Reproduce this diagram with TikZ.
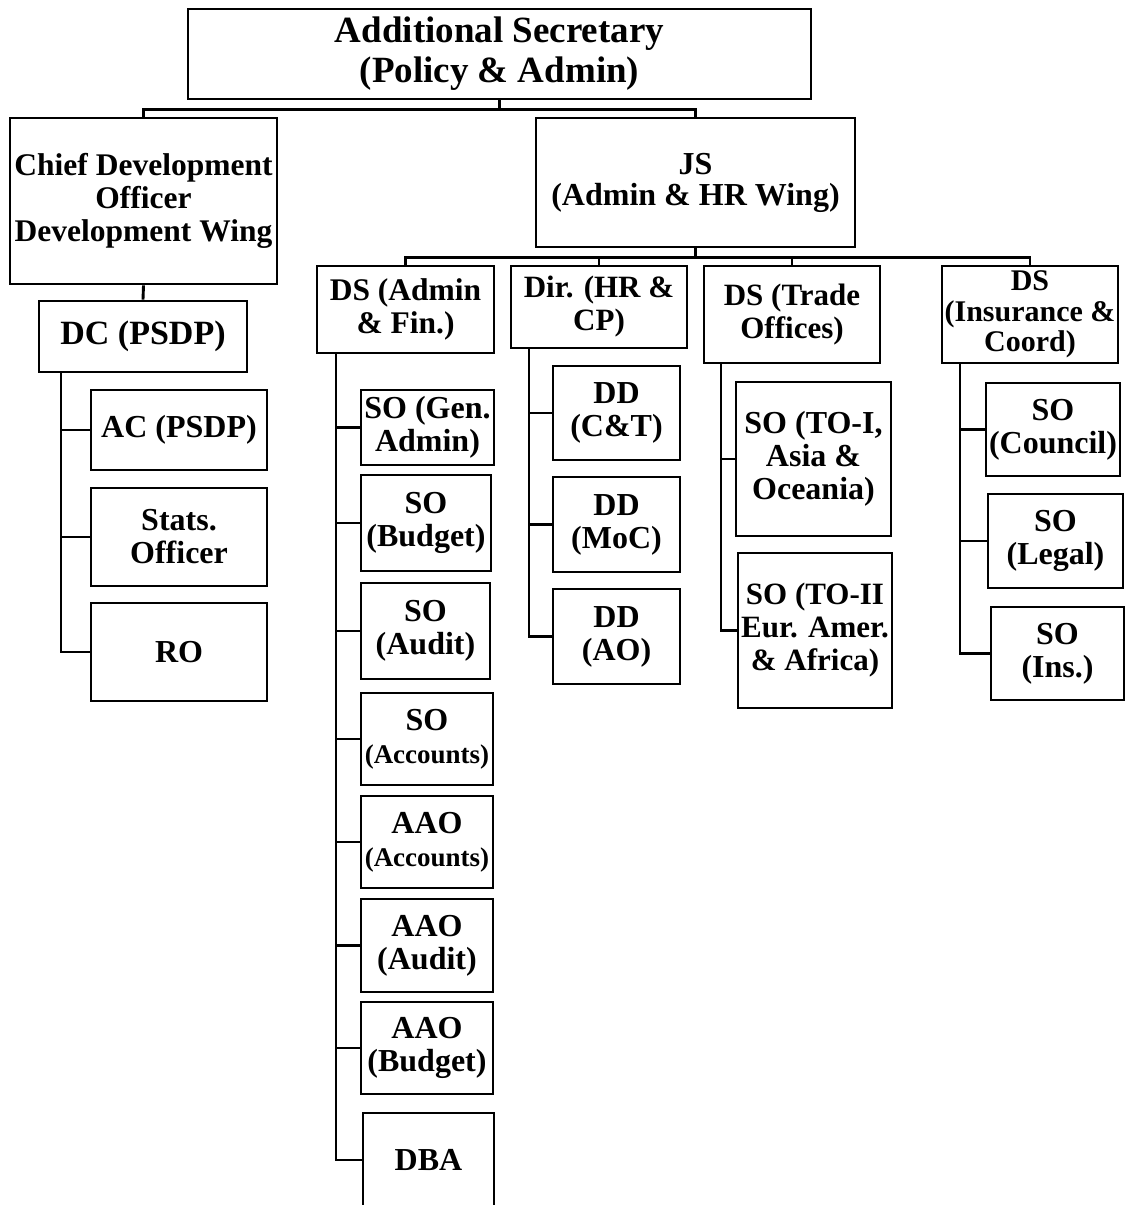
\documentclass[tikz,border=0pt]{standalone}
\usepackage{fontspec}
\setmainfont{Liberation Serif}
\newcommand\myfs[2]{\fontsize{#1}{#2}\selectfont\bfseries}
\begin{document}
\begin{tikzpicture}[x=1pt,y=-1pt,
  box/.style={draw, line width=2.9pt, align=center, inner sep=0pt, font=\myfs{32}{33}},
  conn/.style={line width=2.9pt}]
\clip (0,0) rectangle (1126,1205);
\useasboundingbox (0,0) rectangle (1126,1205);
\fill[white] (0,0) rectangle (1126,1205);

% top levels
\node[box, font=\myfs{37}{40}, minimum width=623pt, minimum height=90pt] (as) at (499.5,54) {Additional Secretary\\(Policy \& Admin)};
\node[box, font=\myfs{31.5}{33}, minimum width=267pt, minimum height=166pt] (cdo) at (143.5,201) {Chief Development\\Officer\\Development Wing};
\node[box, font=\myfs{32}{31}, minimum width=319pt, minimum height=129pt] (js) at (695.5,182.5) {JS\\(Admin \& HR Wing)};

% development wing
\node[box, font=\myfs{34}{35}, minimum width=208pt, minimum height=71pt] (dc) at (143,336.5) {DC (PSDP)};
\node[box, minimum width=176pt, minimum height=80pt] (ac) at (179,430) {AC (PSDP)};
\node[box, minimum width=176pt, minimum height=98pt] (stats) at (179,537) {Stats.\\Officer};
\node[box, minimum width=176pt, minimum height=98pt] (ro) at (179,652) {RO};

% DS level
\node[box, font=\myfs{31.5}{33}, minimum width=177pt, minimum height=87pt] (dsa) at (405.5,309.5) {DS (Admin\\\& Fin.)};
\node[box, font=\myfs{31}{33}, minimum width=176pt, minimum height=82pt] (dir) at (599,307) {Dir. (HR \&\\CP)};
\node[box, font=\myfs{31}{33}, minimum width=176pt, minimum height=97pt] (dst) at (792,314.5) {DS (Trade\\Offices)};
\node[box, font=\myfs{30}{30.5}, minimum width=176pt, minimum height=97pt] (dsi) at (1030,314.5) {DS\\(Insurance \&\\Coord)};

% DS Admin children
\node[box, minimum width=133pt, minimum height=75pt] (sog) at (427.5,427.5) {SO (Gen.\\Admin)};
\node[box, minimum width=130pt, minimum height=96pt] (sob) at (426,523) {SO\\(Budget)};
\node[box, minimum width=129pt, minimum height=96pt] (soa) at (425.5,631) {SO\\(Audit)};
\node[box, minimum width=132pt, minimum height=92pt] (soac) at (427,739) {SO\\{\myfs{27}{30}(Accounts)}};
\node[box, minimum width=132pt, minimum height=92pt] (aaoac) at (427,842) {AAO\\{\myfs{27}{30}(Accounts)}};
\node[box, minimum width=132pt, minimum height=93pt] (aaoau) at (427,945.5) {AAO\\(Audit)};
\node[box, minimum width=132pt, minimum height=92pt] (aaob) at (427,1048) {AAO\\(Budget)};
\node[box, minimum width=131pt, minimum height=94pt] (dba) at (428.5,1160) {DBA};

% Dir children
\node[box, minimum width=127pt, minimum height=94pt] (ddct) at (616.5,413) {DD\\(C\&T)};
\node[box, minimum width=127pt, minimum height=95pt] (ddmoc) at (616.5,524.5) {DD\\(MoC)};
\node[box, minimum width=127pt, minimum height=95pt] (ddao) at (616.5,636.5) {DD\\(AO)};

% Trade children
\node[box, minimum width=155pt, minimum height=154pt] (to1) at (813.5,459) {SO (TO-I,\\Asia \&\\Oceania)};
\node[box, font=\myfs{31}{33}, minimum width=154pt, minimum height=155pt] (to2) at (815,630.5) {SO (TO-II\\Eur. Amer.\\\& Africa)};

% Insurance children
\node[box, minimum width=134pt, minimum height=93pt] (soc) at (1053,429.5) {SO\\(Council)};
\node[box, minimum width=135pt, minimum height=94pt] (sol) at (1055.5,541) {SO\\(Legal)};
\node[box, minimum width=133pt, minimum height=93pt] (soi) at (1057.5,653.5) {SO\\(Ins.)};

% connectors: top bus
\draw[conn] (as.south) -- ++(0,9) coordinate (b1);
\draw[conn] (b1) -| (cdo.north);
\draw[conn] (b1) -| (js.north);

% development wing
\draw[conn] (cdo.south) -- (dc.north);
\coordinate (dcv) at (61,372);
\draw[conn] (dcv) |- (ac.west);
\draw[conn] (dcv) |- (stats.west);
\draw[conn] (dcv) |- (ro.west);

% JS bus
\draw[conn] (js.south) -- ++(0,9) coordinate (b2);
\draw[conn] (b2) -| (dsa.north);
\draw[conn] (b2) -| (dir.north);
\draw[conn] (b2) -| (dst.north);
\draw[conn] (b2) -| (dsi.north);

% DS Admin
\coordinate (dsav) at (336,353);
\foreach \c in {sog,sob,soa,soac,aaoac,aaoau,aaob,dba}
  \draw[conn] (dsav) |- (\c.west);

% Dir
\coordinate (dirv) at (529,348);
\foreach \c in {ddct,ddmoc,ddao}
  \draw[conn] (dirv) |- (\c.west);

% Trade
\coordinate (dstv) at (721,363);
\foreach \c in {to1,to2}
  \draw[conn] (dstv) |- (\c.west);

% Insurance
\coordinate (dsiv) at (960,363);
\foreach \c in {soc,sol,soi}
  \draw[conn] (dsiv) |- (\c.west);
\end{tikzpicture}
\end{document}
